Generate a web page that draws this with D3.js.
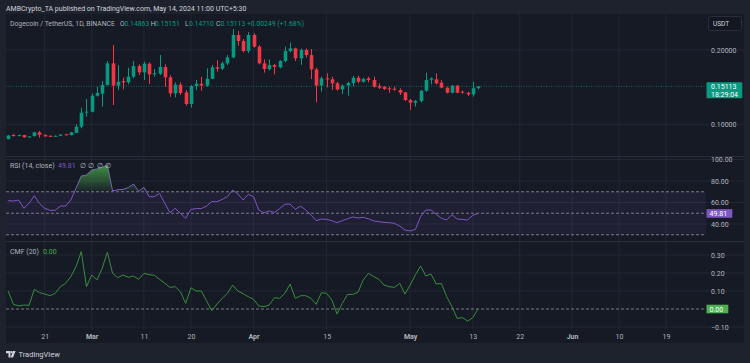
<!DOCTYPE html>
<html><head><meta charset="utf-8">
<script src="https://cdn.jsdelivr.net/npm/d3@7"></script>
<style>
body{margin:0;background:#1e222d;overflow:hidden}
svg{display:block}
text{font-family:Roboto,"Noto Sans",sans-serif}
</style>
</head><body><svg id="c" width="750" height="363"></svg>
<script>
// ---------- DATA ----------
const firstDay = "2024-02-14"; // one daily candle per day
const opens  = [.0802,.0856,.0845,.0855,.0826,.0840,.0892,.0857,.0845,.0839,.0845,.0866,.0855,.0884,.0968,.1160,.1170,.1385,.1412,.1529,
 .1820,.1520,.1582,.1564,.1641,.1784,.1699,.1816,.1672,.1681,.1771,.1632,.1416,.1533,.1430,.1273,.1515,.1546,.1520,.1614,
 .1766,.1748,.1820,.1901,.2202,.2121,.1986,.2202,.2045,.1821,.1744,.1798,.1766,.1852,.1986,.2022,.1888,.2000,.1932,.1739,
 .1520,.1618,.1605,.1551,.1470,.1520,.1556,.1627,.1573,.1618,.1596,.1515,.1506,.1484,.1479,.1461,.1430,.1327,.1291,.1313,
 .1452,.1600,.1605,.1560,.1493,.1425,.1520,.1439,.1425,.1403,.14863];
const highs  = [.0855,.0872,.0862,.0858,.0842,.0898,.0910,.0862,.0850,.0850,.0866,.0872,.0896,.0999,.1223,.1340,.1416,.1506,.1582,.1852,
 .2067,.1798,.1627,.1762,.1852,.1807,.1843,.1834,.1744,.1932,.1807,.1663,.1565,.1565,.1461,.1529,.1596,.1641,.1753,.1798,
 .1865,.1843,.1932,.2282,.2255,.2148,.2240,.2224,.2067,.1874,.1874,.1811,.1865,.2045,.2098,.2031,.2022,.2022,.2013,.1762,
 .1641,.1686,.1641,.1573,.1538,.1573,.1650,.1654,.1627,.1641,.1641,.1551,.1515,.1506,.1506,.1484,.1439,.1340,.1327,.1461,
 .1695,.1632,.1686,.1596,.1506,.1529,.1529,.1457,.1439,.1573,.15151];
const lows   = [.0795,.0835,.0840,.0820,.0822,.0836,.0820,.0832,.0832,.0835,.0842,.0850,.0850,.0880,.0946,.1102,.1160,.1372,.1237,.1520,
 .1260,.1461,.1470,.1537,.1618,.1663,.1596,.1542,.1641,.1663,.1506,.1371,.1363,.1394,.1251,.1224,.1461,.1452,.1506,.1605,
 .1708,.1730,.1798,.1888,.2058,.1968,.1960,.2031,.1807,.1695,.1721,.1672,.1753,.1834,.1968,.1852,.1798,.1901,.1609,.1295,
 .1439,.1497,.1461,.1452,.1407,.1385,.1506,.1551,.1560,.1564,.1493,.1475,.1461,.1425,.1452,.1394,.1313,.1193,.1237,.1295,
 .1439,.1538,.1538,.1484,.1416,.1416,.1416,.1412,.1380,.1372,.14710];
const closes = [.0850,.0845,.0855,.0826,.0836,.0892,.0857,.0838,.0839,.0845,.0862,.0855,.0891,.0968,.1156,.1170,.1385,.1421,.1529,.1820,
 .1520,.1573,.1564,.1641,.1784,.1699,.1816,.1672,.1686,.1771,.1632,.1416,.1533,.1421,.1273,.1515,.1546,.1520,.1614,.1766,
 .1748,.1820,.1901,.2202,.2121,.1986,.2202,.2045,.1821,.1744,.1798,.1775,.1852,.1986,.2022,.1888,.2000,.1932,.1739,.1520,
 .1618,.1605,.1551,.1470,.1520,.1556,.1627,.1573,.1609,.1596,.1506,.1493,.1475,.1479,.1470,.1425,.1327,.1291,.1313,.1452,
 .1596,.1618,.1551,.1493,.1425,.1520,.1425,.1425,.1403,.1486,.15113];
const rsiValues = [61.7,61.4,62.3,54.6,59.2,66.3,59.2,54.6,52.7,52.7,56.7,56.7,62.3,73.2,84.6,85.6,90.2,91.2,92.7,94.9,
 70.7,71.9,72.2,73.8,77.2,70.4,74.1,65.4,65.4,68.5,59.2,50.5,54.6,49.9,45.3,53.6,54.3,54.3,56.7,60.8,
 60.8,62.9,65.4,71.6,67.9,62.3,67.6,65.4,53.0,50.5,52.1,50.8,54.3,58.3,58.6,53.6,56.7,53.0,48.4,43.1,
 44.6,44.3,43.1,41.2,43.1,44.9,46.5,45.6,46.2,44.9,42.8,42.2,41.5,41.2,40.6,38.1,34.4,33.5,35.0,46.8,
 53.0,53.0,49.0,45.3,43.7,48.7,44.6,44.3,43.7,48.1,49.81];
const cmfValues = [0.100,0.026,0.017,0.022,0.020,0.109,0.091,0.083,0.074,0.087,0.124,0.143,0.180,0.235,0.319,0.124,0.189,0.161,0.226,0.315,
 0.198,0.174,0.189,0.176,0.183,0.165,0.198,0.191,0.187,0.165,0.143,0.120,0.124,0.096,0.031,0.118,0.100,0.100,0.046,-0.009,
 0.028,0.059,0.087,0.133,0.100,0.085,0.068,0.054,0.017,0.013,0.022,0.063,0.059,0.087,0.139,0.059,0.074,0.074,0.059,0.026,
 0.091,0.087,0.050,-0.028,0.031,0.081,0.081,0.093,0.161,0.198,0.180,0.165,0.133,0.124,0.120,0.143,0.083,0.133,0.189,0.239,
 0.183,0.194,0.139,0.141,0.068,0.013,-0.052,-0.048,-0.067,-0.048,0.000];
const timeTickDates  = ["2024-02-21","2024-03-01","2024-03-11","2024-03-20","2024-04-01","2024-04-15","2024-05-01","2024-05-13","2024-05-22","2024-06-01","2024-06-10","2024-06-19"];
const timeTickLabels = ["21","Mar","11","20","Apr","15","May","13","22","Jun","10","19"];
const priceTicks = [0.10, 0.20];
const rsiTicks = [40, 60, 80, 100];
const rsiLevels = [30, 50, 70];
const cmfTicks = [-0.10, 0.10, 0.20, 0.30];
const lastPrice = 0.15113, lastTime = "18:29:04";

// ---------- SETUP ----------
const svg = d3.select("#c");
const C = {bg:"#161a25", outer:"#1e222d", grid:"#232734", text:"#b2b5be", up:"#089981", down:"#f23645", rsi:"#7e57c2", cmf:"#388e3c"};
const L = 6, R = 744, PR = 706, TOP = 14, BOT = 343;
const pane1 = [14, 156], pane2 = [157, 241], pane3 = [242, 330];

svg.append("rect").attr("width",750).attr("height",363).attr("fill",C.outer);
svg.append("rect").attr("x",L).attr("y",TOP).attr("width",R-L).attr("height",BOT-TOP).attr("fill",C.bg);

const parse = d3.utcParse("%Y-%m-%d");
const day0 = parse(firstDay);
const dates = closes.map((_, i) => d3.utcDay.offset(day0, i));
const x = d3.scaleUtc().domain([parse("2024-03-01"), parse("2024-06-01")]).range([91.7, 572]);
const yP = d3.scaleLinear().domain([0.10, 0.20]).range([124.3, 50]);
const yR = d3.scaleLinear().domain([40, 100]).range([224, 159.5]);
const yC = d3.scaleLinear().domain([0, 0.30]).range([309, 255]);
const tDates = timeTickDates.map(parse);

// clip paths
const defs = svg.append("defs");
[["cp1",pane1],["cp2",pane2],["cp3",pane3]].forEach(([id,p])=>{
  defs.append("clipPath").attr("id",id).append("rect").attr("x",L).attr("y",p[0]).attr("width",PR-L).attr("height",p[1]-p[0]);
});
defs.append("clipPath").attr("id","ob").append("rect").attr("x",L).attr("y",pane2[0]).attr("width",PR-L).attr("height",yR(70)-pane2[0]);
const grad = defs.append("linearGradient").attr("id","obg").attr("gradientUnits","userSpaceOnUse")
  .attr("x1",0).attr("x2",0).attr("y1",yR(100)).attr("y2",yR(70));
grad.append("stop").attr("offset",0).attr("stop-color","#4caf50").attr("stop-opacity",0.95);
grad.append("stop").attr("offset",1).attr("stop-color","#4caf50").attr("stop-opacity",0.05);

// vertical grid
const g = svg.append("g");
tDates.forEach(d=>{
  g.append("line").attr("x1",x(d)).attr("x2",x(d)).attr("y1",TOP).attr("y2",pane3[1]).attr("stroke",C.grid).attr("stroke-width",1);
});
// horizontal grids
priceTicks.forEach(v=>g.append("line").attr("x1",L).attr("x2",R).attr("y1",yP(v)).attr("y2",yP(v)).attr("stroke",C.grid));
rsiTicks.forEach(v=>g.append("line").attr("x1",L).attr("x2",R).attr("y1",yR(v)).attr("y2",yR(v)).attr("stroke",C.grid));
cmfTicks.forEach(v=>g.append("line").attr("x1",L).attr("x2",R).attr("y1",yC(v)).attr("y2",yC(v)).attr("stroke",C.grid));

// pane separators
[pane1[1]+0.5, pane2[1]+0.5].forEach(yy=>svg.append("line").attr("x1",L).attr("x2",R).attr("y1",yy).attr("y2",yy).attr("stroke","#2a2e39"));

// ---------- PRICE PANE ----------
const pg = svg.append("g").attr("clip-path","url(#cp1)");
pg.append("line").attr("x1",L).attr("x2",PR).attr("y1",yP(lastPrice)).attr("y2",yP(lastPrice))
  .attr("stroke",C.up).attr("stroke-opacity",0.6).attr("stroke-dasharray","1,1.5").attr("stroke-width",1);
const bw = 3.6;
closes.forEach((c,i)=>{
  const o = opens[i], col = c >= o ? C.up : C.down, xc = Math.round(x(dates[i])) + 0.5;
  pg.append("line").attr("x1",xc).attr("x2",xc).attr("y1",yP(highs[i])).attr("y2",yP(lows[i])).attr("stroke",col).attr("stroke-width",1);
  const t = yP(Math.max(o,c)), b = yP(Math.min(o,c));
  pg.append("rect").attr("x",xc-bw/2).attr("y",t).attr("width",bw).attr("height",Math.max(1,b-t)).attr("fill",col);
});

// price axis
const pa = svg.append("g").attr("transform",`translate(${PR},0)`)
  .call(d3.axisRight(yP).tickValues(priceTicks).tickFormat(d3.format(".5f")).tickSize(0).tickPadding(5));
pa.select(".domain").remove();
pa.selectAll("text").attr("fill",C.text).attr("font-size",7);

// last price label
svg.append("rect").attr("x",706.5).attr("y",82.3).attr("width",35.8).attr("height",16).attr("rx",1).attr("fill",C.up);
svg.append("text").attr("x",711).attr("y",89).attr("fill","#fff").attr("font-size",7).text(d3.format(".5f")(lastPrice));
svg.append("text").attr("x",711).attr("y",96.5).attr("fill","#fff").attr("font-size",7).text(lastTime);

// USDT box
svg.append("rect").attr("x",708.5).attr("y",16.5).attr("width",33).attr("height",14).attr("rx",2).attr("fill","#131722").attr("stroke","#2a2e39");
svg.append("text").attr("x",713).attr("y",26).attr("fill","#d1d4dc").attr("font-size",6.5).text("USDT");

// ---------- RSI PANE ----------
const rg = svg.append("g").attr("clip-path","url(#cp2)");
rg.append("rect").attr("x",L).attr("y",yR(70)).attr("width",PR-L).attr("height",yR(30)-yR(70)).attr("fill","rgba(126,87,194,0.10)");
rsiLevels.forEach(v=>rg.append("line").attr("x1",L).attr("x2",PR).attr("y1",yR(v)).attr("y2",yR(v))
  .attr("stroke","#787b86").attr("stroke-dasharray","3,2").attr("stroke-width",1));
const rsiPts = rsiValues.map((v,i)=>[x(dates[i]), v]);
svg.append("g").attr("clip-path","url(#ob)").append("path")
  .attr("d", d3.area().x(d=>d[0]).y0(yR(70)).y1(d=>yR(d[1]))(rsiPts)).attr("fill","url(#obg)");
rg.append("path").attr("d", d3.line().x(d=>d[0]).y(d=>yR(d[1]))(rsiPts)).attr("fill","none").attr("stroke",C.rsi).attr("stroke-width",1);
const ra = svg.append("g").attr("transform",`translate(${PR},0)`)
  .call(d3.axisRight(yR).tickValues(rsiTicks).tickFormat(d3.format(".2f")).tickSize(0).tickPadding(5));
ra.select(".domain").remove();
ra.selectAll("text").attr("fill",C.text).attr("font-size",7);
const lastR = rsiValues[rsiValues.length-1];
svg.append("rect").attr("x",706.5).attr("y",yR(lastR)-4.3).attr("width",25.8).attr("height",8.6).attr("fill",C.rsi);
svg.append("text").attr("x",709.5).attr("y",yR(lastR)+2.5).attr("fill","#fff").attr("font-size",7).text(d3.format(".2f")(lastR));

// ---------- CMF PANE ----------
const cg = svg.append("g").attr("clip-path","url(#cp3)");
cg.append("line").attr("x1",L).attr("x2",PR).attr("y1",yC(0)).attr("y2",yC(0)).attr("stroke","#787b86").attr("stroke-dasharray","3,2");
cg.append("path").attr("d", d3.line().x((d,i)=>x(dates[i])).y(d=>yC(d))(cmfValues)).attr("fill","none").attr("stroke",C.cmf).attr("stroke-width",1);
const ca = svg.append("g").attr("transform",`translate(${PR},0)`)
  .call(d3.axisRight(yC).tickValues(cmfTicks).tickFormat(d3.format(".2f")).tickSize(0).tickPadding(5));
ca.select(".domain").remove();
ca.selectAll("text").attr("fill",C.text).attr("font-size",7);
const lastC = cmfValues[cmfValues.length-1];
svg.append("rect").attr("x",706.5).attr("y",yC(lastC)-4.3).attr("width",21.8).attr("height",8.6).attr("fill","#4caf50");
svg.append("text").attr("x",709.5).attr("y",yC(lastC)+2.5).attr("fill","#fff").attr("font-size",7).text(d3.format(".2f")(lastC));

// ---------- TIME AXIS ----------
const ta = svg.append("g").attr("transform",`translate(0,${pane3[1]})`)
  .call(d3.axisBottom(x).tickValues(tDates).tickFormat((d,i)=>timeTickLabels[i]).tickSize(0).tickPadding(4.5));
ta.select(".domain").remove();
ta.selectAll("text").attr("fill",C.text).attr("font-size",7)
  .attr("font-weight",(d,i)=>/[A-Za-z]/.test(timeTickLabels[i]) ? "bold" : "normal");

// ---------- TEXTS ----------
svg.append("text").attr("x",6).attr("y",10.5).attr("fill","#d1d4dc").attr("font-size",7)
  .text("AMBCrypto_TA published on TradingView.com, May 14, 2024 11:00 UTC+5:30");
const lg = svg.append("text").attr("y",25.8).attr("font-size",6.8);
const legendParts = [["Dogecoin / TetherUS, 1D, BINANCE",10,C.text],["O",120,C.text],["0.14863",124.5,C.up],["H",150.7,C.text],["0.15151",155,C.up],
  ["L",185,C.text],["0.14710",189,C.up],["C",216,C.text],["0.15113",220.5,C.up],["+0.00249 (+1.68%)",247,C.up]];
legendParts.forEach(([t,xx,col])=>lg.append("tspan").attr("x",xx).attr("fill",col).text(t));
const rl = svg.append("text").attr("y",167.5).attr("font-size",7);
[["RSI (14, close)",10,C.text],["49.81",58,C.rsi],["∅",80,C.text],["∅",88.3,C.text],["∅",96.7,C.text],["∅",105,C.text]]
  .forEach(([t,xx,col])=>rl.append("tspan").attr("x",xx).attr("fill",col).text(t));
const cl = svg.append("text").attr("y",254.2).attr("font-size",7);
[["CMF (20)",10,C.text],["0.00",43,"#4caf50"]].forEach(([t,xx,col])=>cl.append("tspan").attr("x",xx).attr("fill",col).text(t));

// TradingView logo
const lgG = svg.append("g").attr("fill","#d1d4dc");
lgG.append("path").attr("d","M6,351 h4.5 v6.5 h-2 v-4.3 h-2.5 z");
lgG.append("circle").attr("cx",11.6).attr("cy",352.2).attr("r",1.1);
lgG.append("path").attr("d","M13,351 h2.6 l-2.6,6.5 h-2.3 z");
svg.append("text").attr("x",18.5).attr("y",357).attr("fill","#d1d4dc").attr("font-size",7.5).text("TradingView");
</script>
</body></html>
